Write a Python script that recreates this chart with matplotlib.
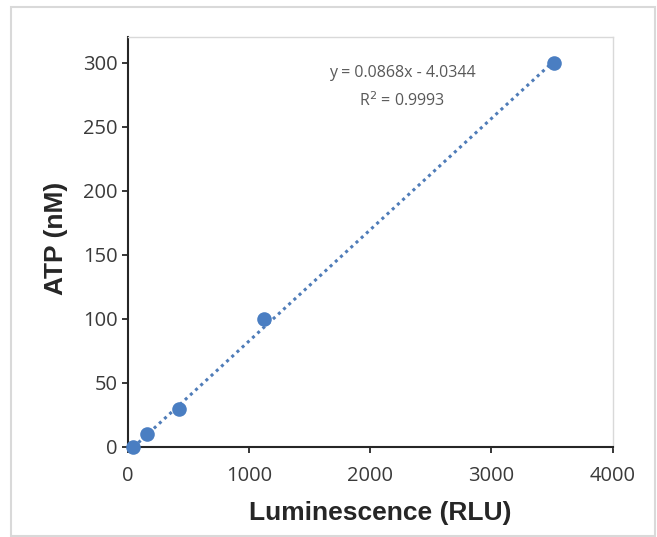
import matplotlib.pyplot as plt
from matplotlib.patches import Rectangle

# standard curve data
luminescence = [43, 154, 420, 1122, 3513]
atp_nm = [0, 10, 30, 100, 300]

# trendline from the chart's equation
slope = 0.0868
intercept = -4.0344
r_squared = 0.9993

x_ticks = [0, 1000, 2000, 3000, 4000]
y_ticks = [0, 50, 100, 150, 200, 250, 300]

BLUE = "#4a7ec2"
TICK_FONT = "Open Sans"
LABEL_FONT = "Liberation Sans"

fig = plt.figure(figsize=(6.57, 5.37), dpi=100)
ax = fig.add_axes([128 / 657, 90 / 537, 484.5 / 657, 410 / 537])

# outer chart border
fig.patches.append(Rectangle((11 / 657, 1 / 537), 644 / 657, 529 / 537,
                             transform=fig.transFigure, fill=False,
                             edgecolor="#d9d9d9", lw=1.5))

x0, x1 = min(luminescence), max(luminescence)
ax.plot([x0, x1], [slope * x0 + intercept, slope * x1 + intercept],
        linestyle=(0, (1, 1.3)), color="#4f7cb8", lw=2.2, zorder=2)
ax.plot(luminescence, atp_nm, "o", color=BLUE, markersize=10.5,
        markeredgewidth=0, zorder=3, clip_on=False)

ax.set_xlim(0, 4000)
ax.set_ylim(0, 320)
ax.set_xticks(x_ticks)
ax.set_yticks(y_ticks)

for side in ["top", "right"]:
    ax.spines[side].set_color("#d9d9d9")
    ax.spines[side].set_linewidth(1)
for side in ["left", "bottom"]:
    ax.spines[side].set_color("#262626")
    ax.spines[side].set_linewidth(1.5)

ax.tick_params(axis="both", direction="out", length=4.5, width=1.3,
               color="#262626", labelcolor="#3a3a3a", labelsize=14.5)
ax.tick_params(axis="x", pad=9)
ax.tick_params(axis="y", pad=3)
for lab in ax.get_xticklabels() + ax.get_yticklabels():
    lab.set_fontfamily(TICK_FONT)

ax.set_xlabel("Luminescence (RLU)", fontsize=19, fontweight="bold",
              fontfamily=LABEL_FONT, color="#262626")
ax.set_ylabel("ATP (nM)", fontsize=19, fontweight="bold",
              fontfamily=LABEL_FONT, color="#262626")
ax.xaxis.set_label_coords(0.52, -0.131)
ax.yaxis.set_label_coords(-0.124, 0.51)

ax.text(2261, 292, f"y = {slope}x - {abs(intercept)}", ha="center", va="center",
        fontsize=11.5, fontfamily=TICK_FONT, color="#595959")
ax.text(2261, 270, f"R$^2$ = {r_squared}", ha="center", va="center",
        fontsize=11.5, fontfamily=TICK_FONT, color="#595959")

fig.savefig("out.png", dpi=100)
